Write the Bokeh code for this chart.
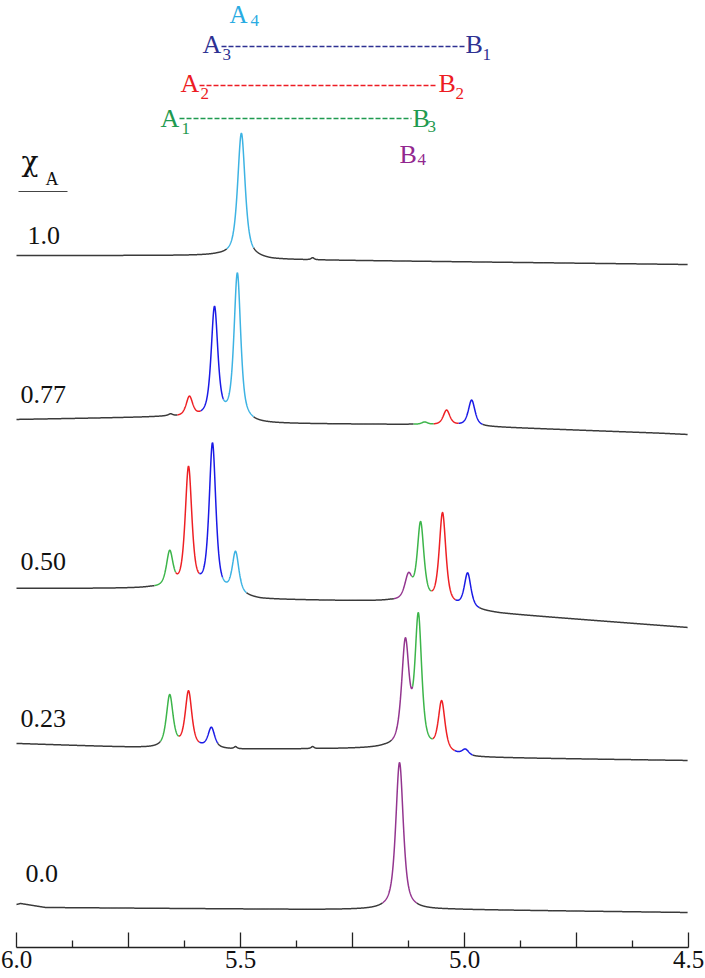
import numpy as np
from bokeh.plotting import figure
from bokeh.models import Range1d, FixedTicker, Label, PrintfTickFormatter
from bokeh.embed import file_html
from bokeh.resources import INLINE

# ---------------- data ----------------
ROW_LABELS = ["1.0", "0.77", "0.50", "0.23", "0.0"]

AXIS_MAJOR = [6.0, 5.75, 5.5, 5.25, 5.0, 4.75, 4.5]
AXIS_MINOR = [5.875, 5.625, 5.375, 5.125, 4.875, 4.625]
AXIS_UNLABELED = [5.75, 5.25, 4.75]

# chi_A = 1.0
R10_PEAK_PPM = [5.498, 5.339]
R10_PEAK_H = [124, 2]
R10_PEAK_W = [0.0100, 0.004]
R10_BASE_PPM = [6.0, 5.551, 5.431, 4.502]
R10_BASE_Y = [693, 693, 689, 684]
R10_SEGS = [(5.531, 5.471, "cyan")]

# chi_A = 0.77
R77_PEAK_PPM = [5.656, 5.614, 5.558, 5.507, 5.089, 5.040, 4.984]
R77_PEAK_H = [2, 20, 111, 147, 2.5, 15, 26]
R77_PEAK_W = [0.006, 0.0089, 0.0089, 0.0089, 0.008, 0.0089, 0.0089]
R77_BASE_PPM = [6.0, 5.667, 5.467, 5.121, 4.935, 4.5625, 4.502]
R77_BASE_Y = [529, 531.5, 525, 524, 521.5, 515.3, 514]
R77_SEGS = [(5.641, 5.589, "red"), (5.589, 5.538, "blue"), (5.538, 5.471, "cyan"),
            (5.114, 5.069, "green"), (5.069, 5.013, "red"), (5.013, 4.960, "blue")]

# chi_A = 0.50
R50_PEAK_PPM = [5.658, 5.616, 5.5625, 5.511, 5.125, 5.098, 5.049, 4.993]
R50_PEAK_H = [35.5, 122, 148.6, 42, 24.5, 79, 92, 35]
R50_PEAK_W = [0.0089, 0.0089, 0.0089, 0.0089, 0.0100, 0.0089, 0.0089, 0.0089]
R50_BASE_PPM = [6.0, 5.701, 5.455, 5.167, 4.920, 4.502]
R50_BASE_Y = [360, 360, 349, 347, 335, 321]
R50_SEGS = [(5.692, 5.645, "green"), (5.645, 5.592, "red"), (5.592, 5.540, "blue"),
            (5.540, 5.487, "cyan"), (5.158, 5.118, "purple"), (5.118, 5.074, "green"),
            (5.074, 5.020, "red"), (5.020, 4.967, "blue")]

# chi_A = 0.23
R23_PEAK_PPM = [5.658, 5.616, 5.565, 5.511, 5.339, 5.132, 5.103, 5.051, 4.998]
R23_PEAK_H = [52, 56, 20.4, 2, 2, 104.5, 130.5, 50, 5.8]
R23_PEAK_W = [0.0089, 0.0089, 0.0089, 0.004, 0.004, 0.0100, 0.0089, 0.0089, 0.0089]
R23_BASE_PPM = [6.0, 5.701, 5.522, 5.179, 4.982, 4.502]
R23_BASE_Y = [205, 200.5, 199, 200, 191, 188]
R23_SEGS = [(5.679, 5.638, "green"), (5.638, 5.592, "red"), (5.592, 5.551, "blue"),
            (5.163, 5.116, "purple"), (5.116, 5.071, "green"), (5.071, 5.022, "red"),
            (5.022, 4.982, "blue")]

# chi_A = 0.0
R00_PEAK_PPM = [5.145]
R00_PEAK_H = [147]
R00_PEAK_W = [0.0100]
R00_BASE_PPM = [6.0, 5.991, 5.935, 5.330, 5.027, 4.502]
R00_BASE_Y = [44, 45, 41, 39, 39, 36]
R00_SEGS = [(5.183, 5.107, "purple")]

ROWS = [
    (R10_PEAK_PPM, R10_PEAK_H, R10_PEAK_W, R10_BASE_PPM, R10_BASE_Y, R10_SEGS),
    (R77_PEAK_PPM, R77_PEAK_H, R77_PEAK_W, R77_BASE_PPM, R77_BASE_Y, R77_SEGS),
    (R50_PEAK_PPM, R50_PEAK_H, R50_PEAK_W, R50_BASE_PPM, R50_BASE_Y, R50_SEGS),
    (R23_PEAK_PPM, R23_PEAK_H, R23_PEAK_W, R23_BASE_PPM, R23_BASE_Y, R23_SEGS),
    (R00_PEAK_PPM, R00_PEAK_H, R00_PEAK_W, R00_BASE_PPM, R00_BASE_Y, R00_SEGS),
]

# ---------------- styles ----------------
LINE_COLORS = {"gray": "#3a3a3a", "green": "#3cb54a", "red": "#ee2024",
               "blue": "#1a1ae6", "cyan": "#3db3e3", "purple": "#93358f"}
TXT_CYAN = "#29abe2"
TXT_NAVY = "#2e3192"
TXT_RED = "#ed1c24"
TXT_GREEN = "#1f9a50"
TXT_PURPLE = "#92278f"
SERIF = "Liberation Serif"

PX = 448.0  # pixels per ppm
W, H, BOTTOM = 705, 978, 31
LBL_DY = 9  # label baseline correction (screen px, upward)


def X(px):  # picture x -> ppm (layout helper)
    return 6.0 - (px - 16) / PX


def Y(py):  # picture y -> data y (layout helper)
    return 948 - py


def pv(x, c, h, w, eta=0.7):
    d = (x - c) / w
    return h * (eta / (1 + d * d) + (1 - eta) * np.exp(-np.log(2) * d * d))


p = figure(width=W, height=H, output_backend="svg", toolbar_location=None,
           x_range=Range1d(X(0), X(W)), y_range=Range1d(Y(H - BOTTOM), Y(0)),
           y_axis_location=None, min_border_left=0, min_border_right=0,
           min_border_top=0, min_border_bottom=BOTTOM)
p.grid.visible = False
p.outline_line_color = None
p.background_fill_color = "white"
p.border_fill_color = "white"

ax = p.xaxis[0]
ax.ticker = FixedTicker(ticks=AXIS_MAJOR, minor_ticks=AXIS_MINOR)
ax.formatter = PrintfTickFormatter(format="%.1f")
ax.major_label_overrides = {v: "" for v in AXIS_UNLABELED}
ax.bounds = (4.5, 6.0)
ax.major_label_text_font = SERIF
ax.major_label_text_font_size = "25px"
ax.major_label_text_color = "#111111"
ax.major_label_standoff = 3
ax.major_tick_in = 15
ax.major_tick_out = 0
ax.minor_tick_in = 7
ax.minor_tick_out = 0
ax.axis_line_color = "#222222"
ax.major_tick_line_color = "#222222"
ax.minor_tick_line_color = "#222222"
ax.axis_line_width = 1.3
ax.major_tick_line_width = 1.3
ax.minor_tick_line_width = 1.3

xs_ppm = np.linspace(6.0, 4.502, 3200)

gray_xs, gray_ys, col_xs, col_ys, col_cs = [], [], [], [], []
for (pk, ph, pw, bp, by, segs) in ROWS:
    base = np.interp(xs_ppm[::-1], bp[::-1], by[::-1])[::-1]
    y = base.copy()
    for c, h, w in zip(pk, ph, pw):
        y += pv(xs_ppm, c, h, w)
    lab = np.array(["gray"] * len(xs_ppm), dtype=object)
    for hi, lo, cname in segs:
        m = (xs_ppm <= hi) & (xs_ppm >= lo)
        lab[m] = cname
    start = 0
    n = len(xs_ppm)
    for i in range(1, n + 1):
        if i == n or lab[i] != lab[start]:
            end = min(i + 1, n)
            if lab[start] == "gray":
                gray_xs.append(xs_ppm[start:end].tolist())
                gray_ys.append(y[start:end].tolist())
            else:
                col_xs.append(xs_ppm[start:end].tolist())
                col_ys.append(y[start:end].tolist())
                col_cs.append(LINE_COLORS[lab[start]])
            start = i

p.multi_line(gray_xs, gray_ys, line_color=LINE_COLORS["gray"], line_width=1.5)
p.multi_line(col_xs, col_ys, line_color=col_cs, line_width=1.5)


def tlabel(lx, ly, text, color, size, font=SERIF):
    p.add_layout(Label(x=X(lx), y=Y(ly), text=text, text_align="left",
                       y_offset=LBL_DY, text_baseline="alphabetic",
                       text_font=font, text_font_size=size, text_color=color))


# row labels
row_pos = [(27, 244), (20, 403), (20, 570), (20, 727), (25, 882)]
for t, (lx, ly) in zip(ROW_LABELS, row_pos):
    tlabel(lx, ly, t, "#111111", "26px")

# chi_A header
tlabel(21, 170, "χ", "#111111", "28px", "DejaVu Serif")
tlabel(45, 187, "A", "#111111", "18px")
p.segment(x0=[X(18)], y0=[Y(191)], x1=[X(67)], y1=[Y(191)],
          line_color="#444444", line_width=1.2)

BIG, SUB = "26px", "17px"
# A4
tlabel(229, 23, "A", TXT_CYAN, "25px"); tlabel(250, 29, "4", TXT_CYAN, SUB)
# A3 ---- B1
tlabel(202, 53, "A", TXT_NAVY, BIG); tlabel(222, 63, "3", TXT_NAVY, SUB)
tlabel(465, 53, "B", TXT_NAVY, BIG); tlabel(482, 63, "1", TXT_NAVY, SUB)
# A2 ---- B2
tlabel(180, 92, "A", TXT_RED, BIG); tlabel(200, 102, "2", TXT_RED, SUB)
tlabel(438, 92, "B", TXT_RED, BIG); tlabel(455, 102, "2", TXT_RED, SUB)
# A1 ---- B3
tlabel(160, 127, "A", TXT_GREEN, BIG); tlabel(181, 137, "1", TXT_GREEN, SUB)
tlabel(412, 127, "B", TXT_GREEN, BIG); tlabel(427, 135, "3", TXT_GREEN, SUB)
# B4
tlabel(399, 163, "B", TXT_PURPLE, BIG); tlabel(417, 168, "4", TXT_PURPLE, SUB)

p.segment(x0=[X(221), X(199), X(179)], y0=[Y(46), Y(85), Y(118)],
          x1=[X(464), X(437), X(411)], y1=[Y(46), Y(85), Y(118)],
          line_color=[TXT_NAVY, TXT_RED, TXT_GREEN], line_width=1.5,
          line_dash="5 2")

open("out.html", "w").write(file_html(p, INLINE))
